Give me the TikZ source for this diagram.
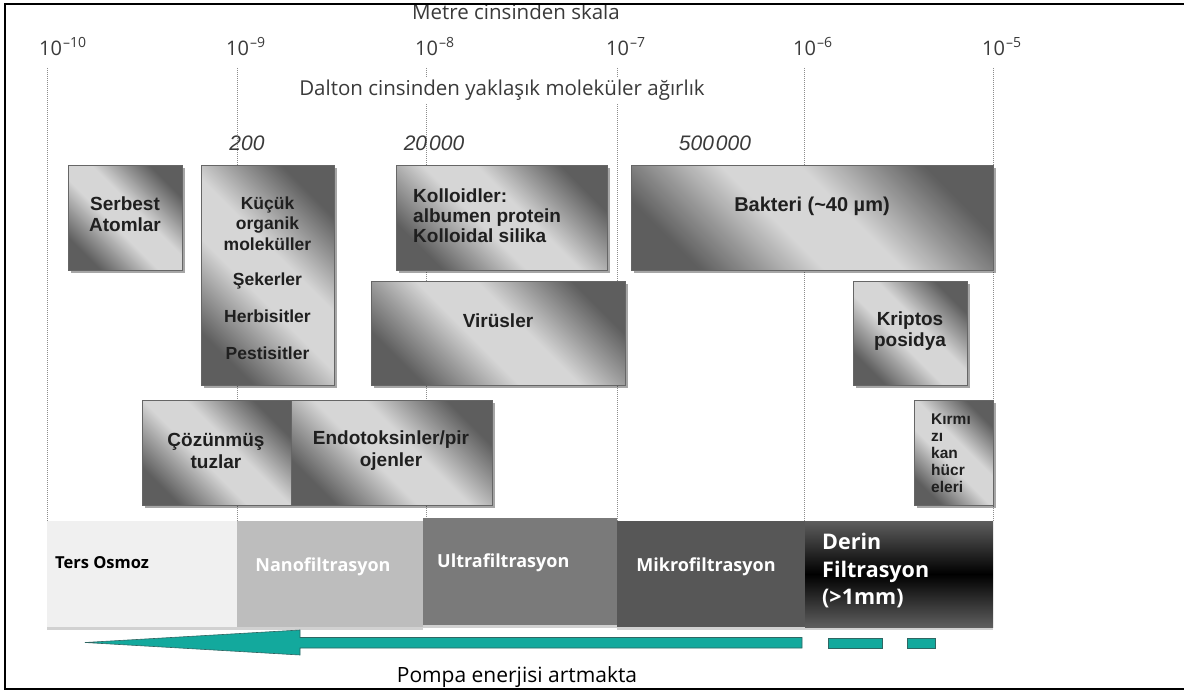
\documentclass[tikz,border=0pt]{standalone}
\usepackage{fontspec}
\setmainfont{Liberation Sans}
\newfontfamily\osans{Open Sans}
\usetikzlibrary{shadows}
\definecolor{gdark}{HTML}{5E5E5E}
\definecolor{gmid}{HTML}{9C9C9C}
\definecolor{glight}{HTML}{D6D6D6}
\definecolor{tealA}{HTML}{13A99D}
\definecolor{tealE}{HTML}{2F6662}
\definecolor{boxtxt}{HTML}{1F1F1F}
\definecolor{scaletxt}{HTML}{3A3A3A}
\definecolor{terscol}{HTML}{F0F0F0}
\definecolor{nanocol}{HTML}{BDBDBD}
\definecolor{ultracol}{HTML}{7A7A7A}
\definecolor{mikrocol}{HTML}{575757}
\definecolor{derincol}{HTML}{5E5E5E}
\pgfdeclareverticalshading{boxsh}{100bp}{color(0bp)=(gdark); color(25bp)=(gdark); color(35bp)=(gmid); color(44bp)=(glight); color(56bp)=(glight); color(65bp)=(gmid); color(75bp)=(gdark); color(100bp)=(gdark)}
\newcommand\tenpow[1]{{\fontsize{20}{20}\selectfont 10}\raisebox{8pt}{\fontsize{14}{14}\selectfont \kern1pt–#1}}
\begin{document}
\begin{tikzpicture}[x=1pt,y=-1pt,
  gbox/.style={anchor=north west, inner sep=0pt, outer sep=0pt, draw=black!60, line width=0.7pt,
    shading=boxsh, shading angle=-45,
    drop shadow={shadow xshift=2.5pt, shadow yshift=-2.5pt, opacity=0.35, fill=black}},
  btxt/.style={font=\fontsize{19}{21}\selectfont\bfseries, text=boxtxt, align=center, inner sep=0pt},
  scaleline/.style={draw=black!45, line width=0.6pt, dash pattern=on 1pt off 1pt},
  scalelbl/.style={font=\osans, text=scaletxt, inner sep=0pt, anchor=west},
  numlbl/.style={font=\fontsize{21}{21}\selectfont\itshape, text=scaletxt, inner sep=0pt},
  barbox/.style={anchor=north west, inner sep=0pt, outer sep=0pt, draw=none,
    drop shadow={shadow xshift=0pt, shadow yshift=-3pt, opacity=0.18, fill=black}},
  bartxt/.style={font=\osans\fontsize{18}{20}\selectfont\bfseries, inner sep=0pt},
  tealshape/.style={fill=tealA, draw=tealE, line width=0.6pt}
]
\useasboundingbox (0,0) rectangle (1184,693);
\fill[white] (0,0) rectangle (1184,693);

% scale lines
\foreach \n/\x in {a/47,b/237,c/426,d/617,e/804,f/993}{
  \coordinate (top\n) at (\x,68);
  \coordinate (bot\n) at (\x,521);
  \draw[scaleline] (top\n) -- (bot\n);
}

% titles
\node[font=\osans\fontsize{20.5}{20.5}\selectfont, text=scaletxt, inner sep=0pt] (metre) at (516,12) {Metre cinsinden skala};
\node[font=\osans\fontsize{20.5}{20.5}\selectfont, text=scaletxt, fill=white, inner sep=3pt] (dalton) at (502,90) {Dalton cinsinden yaklaşık moleküler ağırlık};

% scale labels
\node[scalelbl] (s10) at (39,47) {\tenpow{10}};
\node[scalelbl] (s9) at (226,47) {\tenpow{9}};
\node[scalelbl] (s8) at (415,47) {\tenpow{8}};
\node[scalelbl] (s7) at (606,47) {\tenpow{7}};
\node[scalelbl] (s6) at (793,47) {\tenpow{6}};
\node[scalelbl] (s5) at (982,47) {\tenpow{5}};

% dalton numbers
\node[numlbl] (n200) at (247,143) {200};
\node[numlbl] (n20k) at (434,143) {20\kern2pt000};
\node[numlbl] (n500k) at (715,143) {500\kern2pt000};

% boxes
\node[gbox, minimum width=114pt, minimum height=105pt] (serbestBox) at (68,165) {};
\node[btxt] (serbestText) at (125,214) {Serbest\\Atomlar};

\node[gbox, minimum width=133pt, minimum height=220pt] (kucukBox) at (201,165) {};
\node[btxt, font=\fontsize{17.5}{20.5}\selectfont\bfseries] (kucukText) at (267.5,278) {Küçük\\organik\\moleküller\\[14.5pt]Şekerler\\[16.5pt]Herbisitler\\[16.5pt]Pestisitler};

\node[gbox, minimum width=211pt, minimum height=105pt] (kolloidBox) at (396,165) {};
\node[btxt, align=left, anchor=west, font=\fontsize{19}{20}\selectfont\bfseries] (kolloidText) at (413,216) {Kolloidler:\\albumen protein\\Kolloidal silika};

\node[gbox, minimum width=362pt, minimum height=105pt] (bakteriBox) at (631,165) {};
\node[btxt, font=\fontsize{20}{22}\selectfont\bfseries] (bakteriText) at (812,206) {Bakteri (\textasciitilde 40 µm)};

\node[gbox, minimum width=254pt, minimum height=104pt] (virusBox) at (371,281) {};
\node[btxt] (virusText) at (498,321) {Virüsler};

\node[gbox, minimum width=114pt, minimum height=104pt] (kriptosBox) at (853,281) {};
\node[btxt] (kriptosText) at (910,331) {Kriptos\\posidya};

\node[gbox, minimum width=149pt, minimum height=105pt] (cozunBox) at (142,400) {};
\node[gbox, minimum width=201pt, minimum height=105pt] (endoBox) at (291,400) {};
\node[btxt, font=\fontsize{19}{22}\selectfont\bfseries] (cozunText) at (216,451) {Çözünmüş\\tuzlar};
\node[btxt, font=\fontsize{19}{22}\selectfont\bfseries] (endoText) at (391,451) {Endotoksinler/pir\\ojenler};

\node[gbox, minimum width=79pt, minimum height=105pt] (kirmiziBox) at (914,400) {};
\node[btxt, align=left, anchor=west, font=\fontsize{15.5}{17}\selectfont\bfseries] (kirmiziText) at (931,453) {Kırmı\\zı\\kan\\hücr\\eleri};

% bottom bar
\node[barbox, fill=terscol, minimum width=190pt, minimum height=106pt] (tersBox) at (47,521) {};
\node[barbox, fill=nanocol, minimum width=186pt, minimum height=106pt] (nanoBox) at (237,521) {};
\node[barbox, fill=ultracol, minimum width=194pt, minimum height=107pt] (ultraBox) at (423,518) {};
\node[barbox, fill=mikrocol, minimum width=188pt, minimum height=106pt] (mikroBox) at (617,521) {};
\node[barbox, top color=derincol, bottom color=derincol, middle color=black, minimum width=188pt, minimum height=106pt] (derinBox) at (805,521) {};

\node[bartxt, text=black, anchor=west, font=\osans\fontsize{16.5}{20}\selectfont\bfseries] (tersText) at (55,563) {Ters Osmoz};
\node[bartxt, text=white] (nanoText) at (323,567) {Nanofiltrasyon};
\node[bartxt, text=white, anchor=west] (ultraText) at (437,563) {Ultrafiltrasyon};
\node[bartxt, text=white] (mikroText) at (706,567) {Mikrofiltrasyon};
\node[bartxt, text=white, align=left, anchor=west, font=\osans\fontsize{21.5}{27.5}\selectfont\bfseries] (derinText) at (822,571) {Derin\\Filtrasyon\\(>1mm)};

% arrow and dashes
\path[tealshape] (85,642.5) -- (300,630) -- (300,637.5) -- (802,637.5) -- (802,648) -- (300,648) -- (300,655) -- cycle;
\path[tealshape] (828,638) rectangle (882,648);
\path[tealshape] (907,638) rectangle (935,648);

\node[font=\osans\fontsize{21}{21}\selectfont, text=black, inner sep=0pt] (pompa) at (517,677) {Pompa enerjisi artmakta};

% frame
\draw[line width=2.6pt, line join=miter] (1184,4) -- (5,4) -- (5,689) -- (1184,689);
\end{tikzpicture}
\end{document}
